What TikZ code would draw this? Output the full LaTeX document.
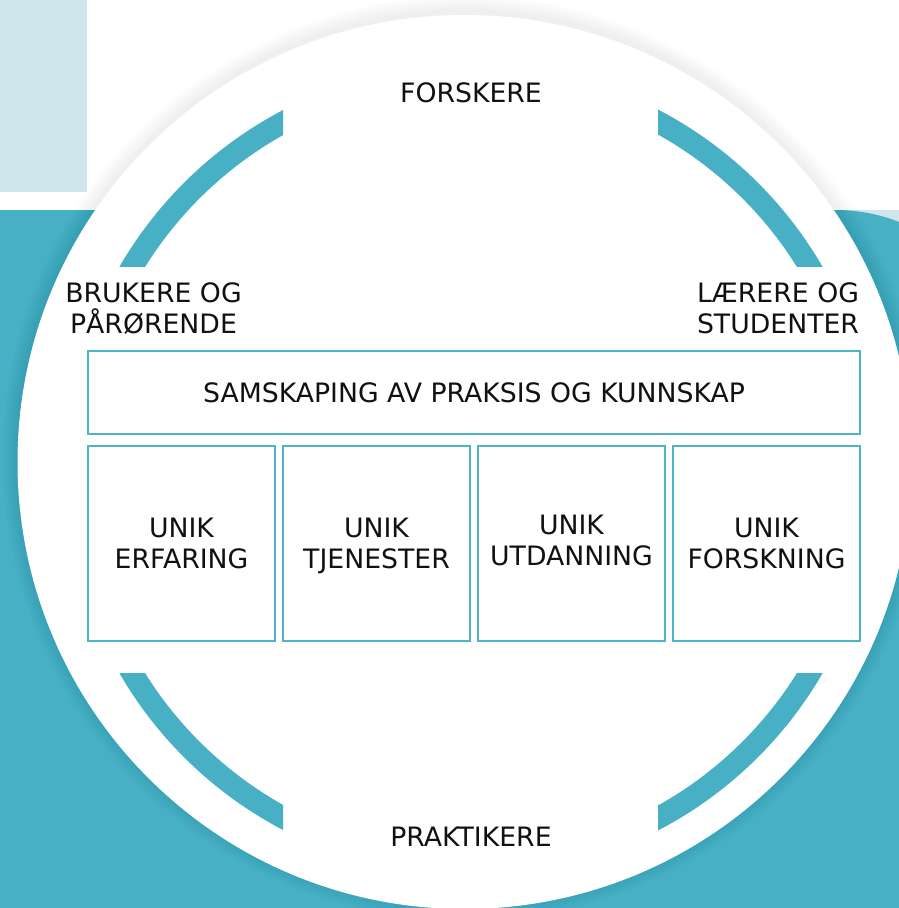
\documentclass[tikz,border=0pt]{standalone}
\usepackage{fontspec}
\setmainfont{DejaVu Sans}
\definecolor{tealc}{RGB}{72,176,196}
\definecolor{lightc}{RGB}{207,230,237}
\definecolor{boxc}{RGB}{80,180,199}
\definecolor{txtc}{RGB}{17,17,17}
\newcommand{\twol}[3][6.6pt]{\rule{0pt}{26pt}#2\\#3\rule[-#1]{0pt}{#1}}
\begin{document}
\begin{tikzpicture}[x=1pt,y=-1pt,
  box/.style={draw=boxc, line width=2pt, fill=white, inner sep=0pt, align=center,
    text=txtc, font=\fontsize{26.7}{31}\selectfont},
  lbl/.style={inner sep=0pt, align=center, text=txtc, font=\fontsize{26.7}{31}\selectfont},
  ring/.style={draw=tealc, line width=22pt}]
\useasboundingbox (0,0) rectangle (899,908);
\clip (0,0) rectangle (899,908);
\fill[white] (0,0) rectangle (899,908);
% light blue panels
\fill[lightc] (0,0) rectangle (87,192);
\fill[lightc] (820,210) rectangle (899,300);
% teal background
\fill[tealc] (0,908) -- (0,210) -- (836,210) arc[start angle=90, end angle=0, radius=171pt] -- (1007,908) -- cycle;
% soft shadow around circle
\foreach \k in {1,...,16}
  \fill[black, opacity=0.0055] (464.5,458) circle[radius={447pt+\k pt}];
% main circle
\fill[white] (464.5,462) circle[radius=447pt];
% four arcs
\begin{scope}
  \clip (0,0) rectangle (283,266);
  \draw[ring] (471,470) circle[radius=395pt];
\end{scope}
\begin{scope}
  \clip (658,0) rectangle (899,266);
  \draw[ring] (471,470) circle[radius=395pt];
\end{scope}
\begin{scope}
  \clip (0,673) rectangle (283,908);
  \draw[ring] (471,470) circle[radius=395pt];
\end{scope}
\begin{scope}
  \clip (658,673) rectangle (899,908);
  \draw[ring] (471,470) circle[radius=395pt];
\end{scope}
% boxes
\node[box, minimum width=772pt, minimum height=83pt] (samskaping) at (474,392.5) {SAMSKAPING AV PRAKSIS OG KUNNSKAP};
\node[box, minimum width=187pt, minimum height=195pt] (erfaring) at (181.5,543.5) {\twol{UNIK}{ERFARING}};
\node[box, minimum width=187pt, minimum height=195pt] (tjenester) at (376.5,543.5) {\twol{UNIK}{TJENESTER}};
\node[box, minimum width=187pt, minimum height=195pt] (utdanning) at (571.5,543.5) {\twol[12.6pt]{UNIK}{UTDANNING}};
\node[box, minimum width=187pt, minimum height=195pt] (forskning) at (766.5,543.5) {\twol{UNIK}{FORSKNING}};
% labels
\node[lbl] (forskere) at (471,93) {FORSKERE};
\node[lbl] (brukere) at (153.5,308.5) {\twol{BRUKERE OG}{PÅRØRENDE}};
\node[lbl] (laerere) at (778,308.5) {\twol{LÆRERE OG}{STUDENTER}};
\node[lbl] (praktikere) at (471,837) {PRAKTIKERE};
\end{tikzpicture}
\end{document}
